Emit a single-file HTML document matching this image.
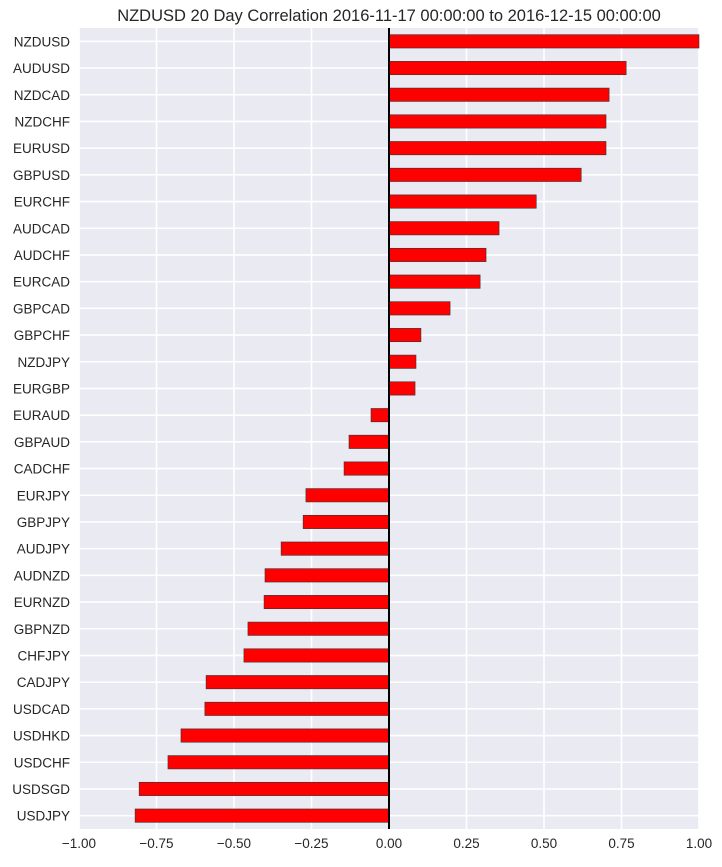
<!DOCTYPE html>
<html><head><meta charset="utf-8"><style>
body{margin:0;background:#fff;font-family:"Liberation Sans",sans-serif;}
</style></head><body>
<svg id="chart" width="722" height="862" xmlns="http://www.w3.org/2000/svg">
<text x="389" y="21" text-anchor="middle" font-size="16.5" fill="#262626">NZDUSD 20 Day Correlation 2016-11-17 00:00:00 to 2016-12-15 00:00:00</text>
<rect x="79" y="28" width="620" height="801" fill="#EAEAF2"/>
<g id="grid"></g><g id="bars"></g><g id="labels"></g>
</svg>
<script>
const categories=["NZDUSD","AUDUSD","NZDCAD","NZDCHF","EURUSD","GBPUSD","EURCHF","AUDCAD","AUDCHF","EURCAD","GBPCAD","GBPCHF","NZDJPY","EURGBP","EURAUD","GBPAUD","CADCHF","EURJPY","GBPJPY","AUDJPY","AUDNZD","EURNZD","GBPNZD","CHFJPY","CADJPY","USDCAD","USDHKD","USDCHF","USDSGD","USDJPY"];
const values=[1.0,0.765,0.71,0.70,0.70,0.62,0.475,0.355,0.313,0.294,0.197,0.103,0.087,0.084,-0.058,-0.129,-0.145,-0.268,-0.277,-0.348,-0.40,-0.403,-0.455,-0.468,-0.59,-0.594,-0.671,-0.713,-0.806,-0.819];
const xTicks=[-1,-0.75,-0.5,-0.25,0,0.25,0.5,0.75,1];
const xTickLabels=["\u22121.00","\u22120.75","\u22120.50","\u22120.25","0.00","0.25","0.50","0.75","1.00"];
const NS="http://www.w3.org/2000/svg";
const L=79,R=699,T=28,B=829;
const x=v=>L+(v+1)/2*(R-L);
const step=(B-T)/categories.length;
const y=i=>T+step*(i+0.5);
function mk(tag,attrs,parent){const e=document.createElementNS(NS,tag);for(const k in attrs)e.setAttribute(k,attrs[k]);document.getElementById(parent).appendChild(e);return e;}
xTicks.forEach((t,i)=>{
  const g=mk("line",{x1:x(t),x2:x(t),y1:T,y2:B,stroke:"#fff","stroke-width":1.6},"grid");
  
  
  const tx=mk("text",{x:x(t),y:B+19,"text-anchor":"middle","font-size":13.5,fill:"#262626"},"labels");
  tx.textContent=xTickLabels[i];
  
  
});
categories.forEach((c,i)=>{
  const g=mk("line",{x1:L,x2:R,y1:y(i),y2:y(i),stroke:"#fff","stroke-width":1.6},"grid");
  
  
  const v=values[i];const h=step*0.5;
  const b=mk("rect",{x:Math.min(x(0),x(v)),y:y(i)-h/2,width:Math.abs(x(v)-x(0)),height:h,fill:"#ff0000",stroke:"#333","stroke-width":0.6},"bars");
  
  
  const t=mk("text",{x:L-9,y:y(i)+5,"text-anchor":"end","font-size":13.5,fill:"#262626"},"labels");
  t.textContent=c;
  
  
});
const z=mk("line",{x1:x(0),x2:x(0),y1:T,y2:B,stroke:"#000","stroke-width":2},"bars");


</script>
</body></html>
